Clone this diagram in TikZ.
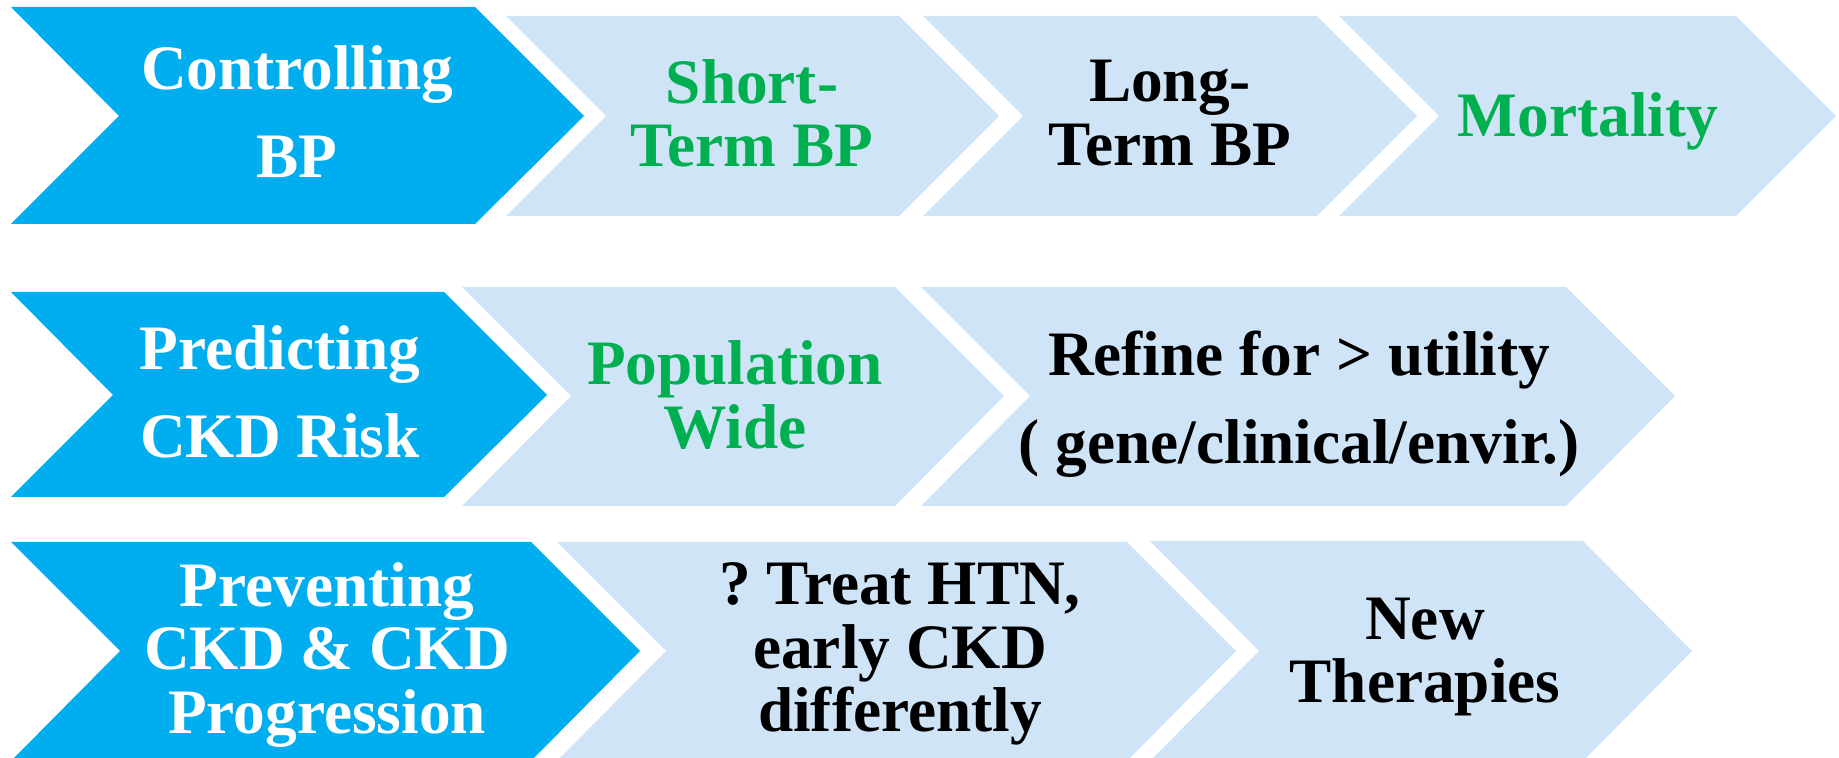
\documentclass[tikz,border=0pt]{standalone}
\usepackage{fontspec}
\setmainfont{Liberation Serif}
\frenchspacing

\definecolor{darkblue}{HTML}{00AEEF}
\definecolor{paleblue}{HTML}{D0E4F8}
\definecolor{okgreen}{HTML}{00B050}

\tikzset{
  darkchev/.style={fill=darkblue},
  palechev/.style={fill=paleblue},
  boxtxt/.style={align=center,inner sep=0pt,font=\fontsize{18}{18}\selectfont\bfseries},
  widetxt/.style={font=\fontsize{18}{25}\selectfont\bfseries},
  whitetxt/.style={boxtxt,text=white},
  greentxt/.style={boxtxt,text=okgreen},
  blacktxt/.style={boxtxt,text=black}
}

\begin{document}
\begin{tikzpicture}[x=0.01cm,y=-0.01cm]
\useasboundingbox (0,0) rectangle (1839,758);

% BP row
\fill [darkchev](11,7) -- (475,7) -- (584,116) -- (475,224) -- (11,224) -- (119,116) -- cycle;
\fill [palechev](506,16) -- (899,16) -- (999,116) -- (899,216) -- (506,216) -- (606,116) -- cycle;
\fill [palechev](923,16) -- (1317,16) -- (1417,116) -- (1317,216) -- (923,216) -- (1023,116) -- cycle;
\fill [palechev](1339,16) -- (1736,16) -- (1836,116) -- (1736,216) -- (1339,216) -- (1439,116) -- cycle;
\node [whitetxt,widetxt] (ctrl) at (297,112) {Controlling\\BP};
\node [greentxt] (short) at (752,113) {Short-\\Term BP};
\node [blacktxt] (long) at (1170,113) {Long-\\Term BP};
\node [greentxt] (mort) at (1588,121) {Mortality};

% risk row
\fill [darkchev](11,292) -- (444,292) -- (547,395) -- (444,497) -- (11,497) -- (113,395) -- cycle;
\fill [palechev](462,287) -- (895,287) -- (1004,396) -- (895,506) -- (462,506) -- (571,396) -- cycle;
\fill [palechev](921,287) -- (1566,287) -- (1675,396) -- (1566,506) -- (921,506) -- (1030,396) -- cycle;
\node [whitetxt,widetxt] (pred) at (280,392) {Predicting\\CKD Risk};
\node [greentxt] (popw) at (735,395) {Population\\Wide};
\node [blacktxt,widetxt] (refine) at (1299,404) {Refine for > utility\\( gene/clinical/envir.)};

% progression row
\fill [darkchev](11,542) -- (531,542) -- (640,651) -- (531,761) -- (11,761) -- (120,651) -- cycle;
\fill [palechev](557,542) -- (1127,542) -- (1236,651) -- (1127,761) -- (557,761) -- (666,651) -- cycle;
\fill [palechev](1150,541) -- (1583,541) -- (1692,651) -- (1583,761) -- (1150,761) -- (1259,651) -- cycle;
\node [whitetxt] (prev) at (327,655) {Preventing\\CKD \& CKD\\Progression};
\node [blacktxt] (treat) at (900,654) {? Treat HTN,\\early CKD\\differently};
\node [blacktxt] (newt) at (1425,657) {New\\Therapies};
\end{tikzpicture}
\end{document}
